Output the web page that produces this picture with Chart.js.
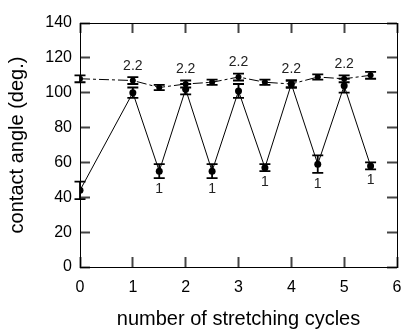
<!DOCTYPE html>
<html>
<head>
<meta charset="utf-8">
<script src="https://cdn.jsdelivr.net/npm/chart.js@4"></script>
<style>
  html, body { margin: 0; padding: 0; background: #fff; }
  #wrap { width: 403px; height: 331px; }
</style>
</head>
<body>
<div id="wrap"><canvas id="myChart" width="403" height="331"></canvas></div>
<script>
const cycles = [0, 1, 1.5, 2, 2.5, 3, 3.5, 4, 4.5, 5, 5.5];
// dashed series (upper)
const stretchedAngle = [108, 107, 103, 105, 106, 109, 106, 105, 109, 108, 110];
const stretchedErr = [2, 2, 1.5, 2, 1.5, 2, 1.5, 2, 1.5, 2, 2];
const stretchedLabels = ['', '2.2', '', '2.2', '', '2.2', '', '2.2', '', '2.2', ''];
// solid series (zigzag)
const relaxedAngle = [44, 100, 55, 102, 55, 101, 57, 105, 59, 104, 58];
const relaxedErr = [5, 3, 4, 3, 4, 4, 2, 2, 5, 4, 2];
const relaxedLabels = ['', '', '1', '', '1', '', '1', '', '1', '', '1'];
const xTicks = [0, 1, 2, 3, 4, 5, 6];
const yTicks = [0, 20, 40, 60, 80, 100, 120, 140];

const font = 'Liberation Sans, Arial, sans-serif';

function toPoints(values) {
  return cycles.map((c, i) => ({ x: c, y: values[i] }));
}

// inward ticks drawn by the axes themselves (negative tick length)
const inwardGrid = {
  display: true,
  drawOnChartArea: false,
  drawTicks: true,
  tickLength: -10,
  tickColor: '#444',
  tickWidth: 2
};

// frame, error bars and value labels
const extras = {
  id: 'extras',
  afterDraw(chart) {
    const ctx = chart.ctx;
    const xs = chart.scales.x;
    const ys = chart.scales.y;
    const a = chart.chartArea;
    const left = Math.round(a.left), right = Math.round(a.right);
    const top = Math.round(a.top), bottom = Math.round(a.bottom);
    ctx.save();
    ctx.setLineDash([]);

    ctx.strokeStyle = '#000';
    ctx.lineWidth = 1;
    ctx.strokeRect(left + 0.5, top + 0.5, right - left, bottom - top);

    ctx.lineWidth = 1.8;
    const drawErr = (vals, errs) => {
      vals.forEach((v, i) => {
        const px = xs.getPixelForValue(cycles[i]);
        const hi = ys.getPixelForValue(v + errs[i]);
        const lo = ys.getPixelForValue(v - errs[i]);
        ctx.beginPath();
        ctx.moveTo(px, hi); ctx.lineTo(px, lo);
        ctx.moveTo(px - 5.5, hi); ctx.lineTo(px + 5.5, hi);
        ctx.moveTo(px - 5.5, lo); ctx.lineTo(px + 5.5, lo);
        ctx.stroke();
      });
    };
    drawErr(stretchedAngle, stretchedErr);
    drawErr(relaxedAngle, relaxedErr);

    ctx.font = '14px ' + font;
    ctx.fillStyle = '#222';
    ctx.textAlign = 'center';
    ctx.textBaseline = 'middle';
    stretchedLabels.forEach((t, i) => {
      if (!t) return;
      const px = xs.getPixelForValue(cycles[i]);
      const py = ys.getPixelForValue(stretchedAngle[i] + stretchedErr[i]) - 11;
      ctx.fillText(t, px, py);
    });
    relaxedLabels.forEach((t, i) => {
      if (!t) return;
      const px = xs.getPixelForValue(cycles[i]);
      const py = ys.getPixelForValue(relaxedAngle[i] - relaxedErr[i]) + 11;
      ctx.fillText(t, px, py);
    });
    ctx.restore();
  }
};

const ctx = document.getElementById('myChart').getContext('2d');
new Chart(ctx, {
  type: 'scatter',
  data: {
    datasets: [
      {
        label: 'stretched',
        data: toPoints(stretchedAngle),
        showLine: true,
        borderColor: '#000',
        backgroundColor: '#000',
        borderWidth: 1,
        borderDash: [10, 3, 3, 3],
        pointRadius: 3,
        pointBorderWidth: 0
      },
      {
        label: 'relaxed',
        data: toPoints(relaxedAngle),
        showLine: true,
        borderColor: '#000',
        backgroundColor: '#000',
        borderWidth: 1,
        pointRadius: 3.5,
        pointBorderWidth: 0
      }
    ]
  },
  options: {
    responsive: false,
    animation: false,
    layout: { padding: { left: 0, top: 23, right: 6, bottom: 0 } },
    plugins: {
      legend: { display: false },
      tooltip: { enabled: false }
    },
    scales: {
      x: {
        type: 'linear',
        min: 0,
        max: 6,
        afterBuildTicks: s => { s.ticks = xTicks.map(v => ({ value: v })); },
        afterFit: s => { s.height = 64; s.paddingLeft = 0; s.paddingRight = 0; },
        grid: inwardGrid,
        border: { display: true, color: '#000', width: 1 },
        ticks: { color: '#000', padding: 21, font: { family: font, size: 16 } },
        title: {
          display: true,
          text: 'number of stretching cycles',
          color: '#000',
          font: { family: font, size: 20 },
          padding: { top: 11, bottom: 0 }
        }
      },
      x2: {
        type: 'linear',
        position: 'top',
        min: 0,
        max: 6,
        afterBuildTicks: s => { s.ticks = xTicks.map(v => ({ value: v })); },
        afterFit: s => { s.height = 0; s.paddingLeft = 0; s.paddingRight = 0; },
        grid: inwardGrid,
        border: { display: false },
        ticks: { display: false }
      },
      y: {
        min: 0,
        max: 140,
        afterBuildTicks: s => { s.ticks = yTicks.map(v => ({ value: v })); },
        afterFit: s => { s.width = 80; s.paddingTop = 0; s.paddingBottom = 0; },
        grid: inwardGrid,
        border: { display: true, color: '#000', width: 1 },
        ticks: { color: '#000', padding: 18, font: { family: font, size: 16 } },
        title: {
          display: true,
          text: 'contact angle (deg.)',
          color: '#000',
          font: { family: font, size: 20 },
          padding: { top: 5, bottom: 0 }
        }
      },
      y2: {
        position: 'right',
        min: 0,
        max: 140,
        afterBuildTicks: s => { s.ticks = yTicks.map(v => ({ value: v })); },
        afterFit: s => { s.width = 0; s.paddingTop = 0; s.paddingBottom = 0; },
        grid: inwardGrid,
        border: { display: false },
        ticks: { display: false }
      }
    }
  },
  plugins: [extras]
});
</script>
</body>
</html>
